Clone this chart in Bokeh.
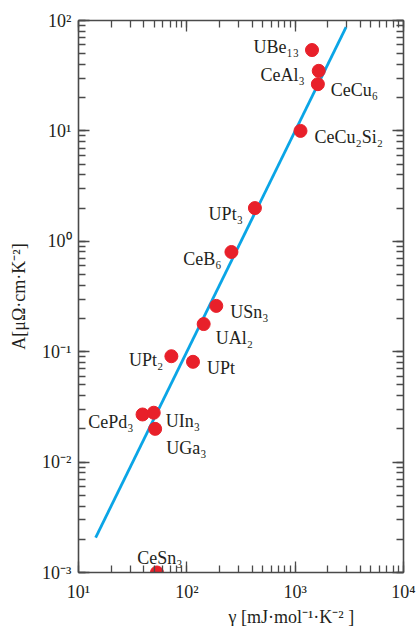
from bokeh.plotting import figure
from bokeh.models import ColumnDataSource, LogAxis, Title, CustomJSTickFormatter, LogTicker
from bokeh.core.properties import value
from bokeh.embed import file_html
from bokeh.resources import INLINE

# ---------------- data ----------------
compounds = ["UBe₁₃", "CeAl₃", "CeCu₆", "CeCu₂Si₂", "UPt₃", "CeB₆", "USn₃",
             "UAl₂", "UPt", "UPt₂", "CePd₃", "UIn₃", "UGa₃", "CeSn₃"]
gamma = [1430, 1650, 1620, 1120, 425, 258, 187, 143, 114, 72, 39, 49.5, 51, 53]
A_coef = [54, 35, 26.5, 10, 2.0, 0.80, 0.26, 0.178, 0.081, 0.091, 0.027, 0.028, 0.020, 0.001]
fit_gamma = [14.4, 2950]
fit_A = [0.00207, 87.0]
x_label = "γ [mJ·mol⁻¹·K⁻² ]"
y_label = "A[μΩ·cm·K⁻²]"

# ---------------- styles ----------------
label_align = ["right", "right", "left", "left", "right", "right", "left",
               "left", "left", "right", "right", "left", "left", "center"]
label_dx = [-13, -14, 13, 14, -12, -10, 14, 12, 14, -8, -9, 12, 11, 3]
label_dy = [-3, 4, 6, 6.5, 6, 7.5, 6, 14, 6, 3.5, 7.5, 8.4, 19, -15]

FONT = "Liberation Serif"
AXIS_COLOR = "#4a4a4a"
TEXT_COLOR = "#231f20"
RED = "#e8202a"
BLUE = "#0aa5e6"

L, R, T, B = 78, 403, 20, 573
W, H = 418, 626

p = figure(width=W, height=H, x_axis_type="log", y_axis_type="log",
           x_range=(10, 1e4), y_range=(1e-3, 1e2),
           output_backend="svg", toolbar_location=None,
           min_border_left=L, min_border_right=W - R,
           min_border_top=T, min_border_bottom=H - B)
p.grid.visible = False
p.outline_line_color = None
p.background_fill_color = "white"
p.border_fill_color = "white"

fmt = CustomJSTickFormatter(code="""
const sup = {"-": "\u207b", "0": "\u2070", "1": "\u00b9", "2": "\u00b2", "3": "\u00b3",
             "4": "\u2074", "5": "\u2075", "6": "\u2076"};
const e = Math.round(Math.log10(tick));
return "10" + String(e).split("").map(c => sup[c]).join("");
""")
blank_fmt = CustomJSTickFormatter(code="return '';")


def style(ax, show):
    ax.ticker = LogTicker(num_minor_ticks=10)
    ax.axis_line_color = AXIS_COLOR
    ax.axis_line_width = 1.6
    ax.major_tick_line_color = AXIS_COLOR
    ax.minor_tick_line_color = AXIS_COLOR
    ax.major_tick_line_width = 1.3
    ax.minor_tick_line_width = 1.3
    ax.major_tick_in = 11
    ax.major_tick_out = 0
    ax.minor_tick_in = 7
    ax.minor_tick_out = 0
    ax.major_label_text_font = FONT
    ax.major_label_text_color = TEXT_COLOR
    ax.major_label_text_font_size = "18px"
    if show:
        ax.formatter = fmt
    else:
        ax.formatter = blank_fmt
        ax.major_label_standoff = 0


style(p.xaxis[0], True)
style(p.yaxis[0], True)
p.xaxis[0].major_label_standoff = 9
p.yaxis[0].major_label_standoff = 7

yax = p.yaxis[0]
yax.axis_label = y_label
yax.axis_label_text_font = FONT
yax.axis_label_text_font_size = "18px"
yax.axis_label_text_font_style = "normal"
yax.axis_label_text_color = TEXT_COLOR
yax.axis_label_standoff = 10

top_ax = LogAxis()
right_ax = LogAxis()
style(top_ax, False)
style(right_ax, False)
p.add_layout(top_ax, "above")
p.add_layout(right_ax, "right")

p.add_layout(Title(text=x_label, align="left", offset=228 - L, standoff=0,
                   text_font=FONT, text_font_size="18px",
                   text_font_style="normal", text_color=TEXT_COLOR), "below")

# fit line A = a * gamma^2
p.line(fit_gamma, fit_A, line_color=BLUE, line_width=2.8)

src = ColumnDataSource(dict(x=gamma, y=A_coef, text=compounds,
                            dx=label_dx, dy=label_dy, align=label_align))
p.scatter("x", "y", source=src, size=13, fill_color=RED, line_color=RED)
p.text(x="x", y="y", text="text", source=src, x_offset="dx", y_offset="dy",
       text_align="align", text_baseline="alphabetic",
       text_font=value(FONT), text_font_size="18px", text_color=TEXT_COLOR)

open("out.html", "w").write(file_html(p, INLINE))
